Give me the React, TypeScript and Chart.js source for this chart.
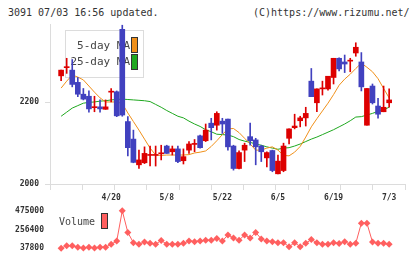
import React, { useEffect, useRef } from 'react';
import { Chart, registerables } from 'chart.js';

Chart.register(...registerables);

// Daily candles (60 trading days)
const opens = [
  2265, 2285, 2279, 2249, 2220, 2215, 2187, 2189, 2183, 2225,
  2226, 2379, 2153, 2110, 2047, 2052, 2070, 2070, 2074, 2093,
  2079, 2086, 2057, 2083, 2097, 2118, 2106, 2149, 2144, 2154,
  2159, 2093, 2038, 2083, 2116, 2108, 2093, 2064, 2082, 2025,
  2033, 2112, 2138, 2155, 2162, 2252, 2199, 2233, 2233, 2261,
  2308, 2299, 2301, 2321, 2299, 2144, 2240, 2191, 2177, 2199,
];
const highs = [
  2279, 2308, 2305, 2261, 2234, 2228, 2215, 2206, 2206, 2234,
  2228, 2389, 2165, 2132, 2083, 2091, 2093, 2093, 2095, 2095,
  2093, 2093, 2086, 2104, 2109, 2120, 2147, 2161, 2177, 2161,
  2159, 2095, 2081, 2100, 2149, 2112, 2095, 2079, 2083, 2071,
  2100, 2135, 2171, 2166, 2188, 2283, 2233, 2252, 2264, 2308,
  2309, 2316, 2308, 2346, 2322, 2234, 2245, 2210, 2240, 2233,
];
const lows = [
  2253, 2271, 2238, 2214, 2206, 2176, 2177, 2176, 2183, 2201,
  2165, 2166, 2069, 2052, 2038, 2050, 2044, 2044, 2059, 2075,
  2071, 2052, 2049, 2075, 2079, 2088, 2104, 2108, 2132, 2124,
  2083, 2034, 2037, 2055, 2095, 2047, 2055, 2042, 2030, 2025,
  2030, 2098, 2135, 2140, 2142, 2214, 2177, 2218, 2230, 2245,
  2277, 2273, 2275, 2313, 2228, 2144, 2196, 2161, 2177, 2188,
];
const closes = [
  2279, 2287, 2244, 2220, 2208, 2184, 2189, 2184, 2189, 2227,
  2167, 2169, 2089, 2053, 2059, 2075, 2071, 2071, 2075, 2075,
  2086, 2055, 2067, 2098, 2098, 2089, 2132, 2138, 2173, 2147,
  2091, 2038, 2077, 2095, 2106, 2091, 2079, 2077, 2033, 2056,
  2093, 2135, 2142, 2162, 2173, 2214, 2233, 2235, 2264, 2308,
  2282, 2294, 2302, 2335, 2238, 2234, 2199, 2171, 2188, 2206,
];

// Moving averages
const ma5 = [
  2235, 2252, 2267, 2262, 2255, 2240, 2225, 2211, 2201, 2201,
  2201, 2197, 2174, 2153, 2132, 2110, 2088, 2071, 2070, 2071,
  2071, 2071, 2071, 2072, 2076, 2078, 2081, 2092, 2106, 2121,
  2135, 2136, 2126, 2112, 2098, 2083, 2083, 2088, 2091, 2083,
  2070, 2069, 2078, 2092, 2115, 2140, 2160, 2179, 2198, 2219,
  2242, 2257, 2269, 2283, 2296, 2286, 2275, 2258, 2234, 2211,
];
const ma25 = [
  2166, 2176, 2186, 2192, 2198, 2200, 2201, 2203, 2204, 2206,
  2207, 2208, 2207, 2206, 2205, 2204, 2202, 2195, 2188, 2180,
  2173, 2166, 2162, 2154, 2147, 2141, 2133, 2128, 2122, 2121,
  2120, 2116, 2109, 2105, 2102, 2098, 2095, 2091, 2088, 2085,
  2088, 2089, 2093, 2098, 2104, 2110, 2115, 2121, 2127, 2133,
  2140, 2147, 2155, 2164, 2165, 2169, 2173, 2178, 2182, 2188,
];

// Daily volume
const volumes = [
  37800, 66700, 66700, 48600, 40000, 48600, 39000, 48600, 48600, 84800,
  120900, 475000, 222100, 102800, 84800, 110100, 95600, 84800, 128100, 84800,
  84800, 84800, 95600, 120900, 113700, 120900, 131700, 131700, 149800, 120900,
  193200, 157000, 131700, 193200, 157000, 222100, 146200, 120900, 113700, 102800,
  102800, 55900, 102800, 55900, 95600, 139000, 102800, 84800, 84800, 102800,
  92000, 113700, 84800, 95600, 330500, 330500, 110100, 95600, 95600, 84800,
];

const tickIndex = [9, 19, 29, 39, 49, 59];
const tickLabels = ['4/20', '5/8', '5/22', '6/5', '6/19', '7/3'];
const priceTicks = [2000, 2200];
const volumeTicks = [37800, 256400, 475000];
const maNames = ['5-day MA', '25-day MA'];
const volumeName = 'Volume';

const X_MIN = -2;
const X_MAX = 61.85;
const Y_MIN = 2000;
const Y_MAX = 2392;

const RED = '#dd0000';
const BLUE = '#4141bf';
const ORANGE = '#f0901a';
const GREEN = '#1fa81f';
const VOL = '#ff5f5f';
const AXIS = '#dcdcdc';
const TEXT = '#333';
const MONO = '"DejaVu Sans Mono", monospace';

const candleColor = (ctx: any) =>
  closes[ctx.dataIndex] >= opens[ctx.dataIndex] ? RED : BLUE;

const maLegend = {
  id: 'maLegend',
  beforeDatasetsDraw(chart: any) {
    const ctx = chart.ctx;
    ctx.save();
    ctx.fillStyle = '#fff';
    ctx.fillRect(65.5, 30.5, 78, 47);
    ctx.strokeStyle = AXIS;
    ctx.lineWidth = 1;
    ctx.strokeRect(65.5, 30.5, 78, 47);
    ctx.font = `11px ${MONO}`;
    ctx.fillStyle = '#444';
    ctx.textAlign = 'right';
    ctx.textBaseline = 'middle';
    ctx.fillText(maNames[0], 130, 46);
    ctx.fillText(maNames[1], 130, 62.5);
    ctx.strokeStyle = '#333';
    ctx.fillStyle = ORANGE;
    ctx.fillRect(131.5, 37.5, 6, 15);
    ctx.strokeRect(131.5, 37.5, 6, 15);
    ctx.fillStyle = GREEN;
    ctx.fillRect(131.5, 54.5, 6, 15);
    ctx.strokeRect(131.5, 54.5, 6, 15);
    ctx.restore();
  },
};

const volLegend = {
  id: 'volLegend',
  beforeDatasetsDraw(chart: any) {
    const ctx = chart.ctx;
    ctx.save();
    ctx.font = `10px ${MONO}`;
    ctx.fillStyle = '#444';
    ctx.textAlign = 'left';
    ctx.textBaseline = 'middle';
    ctx.fillText(volumeName, 59, 22);
    ctx.fillStyle = VOL;
    ctx.strokeStyle = '#333';
    ctx.lineWidth = 1;
    ctx.fillRect(101.5, 13.5, 6, 15);
    ctx.strokeRect(101.5, 13.5, 6, 15);
    ctx.restore();
  },
};

export default function App() {
  const mainRef = useRef<HTMLCanvasElement>(null);
  const volRef = useRef<HTMLCanvasElement>(null);

  useEffect(() => {
    const main = new Chart(mainRef.current as HTMLCanvasElement, {
      type: 'bar',
      data: {
        datasets: [
          {
            type: 'line',
            label: maNames[0],
            data: ma5.map((v, i) => ({ x: i, y: v })),
            borderColor: ORANGE,
            borderWidth: 1,
            pointRadius: 0,
            tension: 0,
            order: 3,
          } as any,
          {
            type: 'line',
            label: maNames[1],
            data: ma25.map((v, i) => ({ x: i, y: v })),
            borderColor: GREEN,
            borderWidth: 1,
            pointRadius: 0,
            tension: 0,
            order: 3,
          } as any,
          {
            type: 'bar',
            label: 'range',
            data: highs.map((h, i) => ({ x: i, y: [lows[i], h] })),
            backgroundColor: candleColor,
            barThickness: 1,
            grouped: false,
            order: 2,
          } as any,
          {
            type: 'bar',
            label: 'body',
            data: opens.map((o, i) => ({ x: i, y: [o, closes[i]] })),
            backgroundColor: candleColor,
            barThickness: 5,
            minBarLength: 1,
            grouped: false,
            order: 1,
          } as any,
        ],
      },
      options: {
        responsive: false,
        animation: false,
        devicePixelRatio: 1,
        layout: { padding: { top: 24, right: 15, left: 0, bottom: 0 } },
        plugins: { legend: { display: false }, tooltip: { enabled: false } },
        scales: {
          x: {
            type: 'linear',
            min: X_MIN,
            max: X_MAX,
            offset: false,
            afterBuildTicks: (scale: any) => {
              const t: any[] = [];
              for (let k = 0; k <= 11; k++) t.push({ value: X_MIN + (k * (X_MAX - X_MIN)) / 11 });
              tickIndex.forEach((i) => t.push({ value: i }));
              t.sort((a, b) => a.value - b.value);
              scale.ticks = t;
            },
            afterFit: (scale: any) => {
              scale.height = 26;
            },
            grid: {
              offset: false,
              drawOnChartArea: false,
              tickLength: 6,
              color: (ctx: any) =>
                ctx.tick && tickIndex.includes(ctx.tick.value) ? 'rgba(0,0,0,0)' : AXIS,
            },
            border: { display: true, color: AXIS },
            ticks: {
              autoSkip: false,
              maxRotation: 0,
              padding: 3,
              color: TEXT,
              font: { family: MONO, size: 8, weight: 'bold' },
              callback: (value: any) => {
                const k = tickIndex.indexOf(value);
                return k >= 0 ? tickLabels[k] : '';
              },
            },
          },
          y: {
            type: 'linear',
            min: Y_MIN,
            max: Y_MAX,
            afterBuildTicks: (scale: any) => {
              scale.ticks = priceTicks.map((v) => ({ value: v }));
            },
            afterFit: (scale: any) => {
              scale.width = 50;
            },
            grid: { drawOnChartArea: false, tickLength: 5, color: AXIS },
            border: { display: true, color: AXIS },
            ticks: {
              padding: 6,
              color: TEXT,
              font: { family: MONO, size: 8, weight: 'bold' },
              callback: (v: any) => String(v),
            },
          },
        },
      } as any,
      plugins: [maLegend],
    });

    const vol = new Chart(volRef.current as HTMLCanvasElement, {
      type: 'line',
      data: {
        datasets: [
          {
            label: volumeName,
            data: volumes.map((v, i) => ({ x: i, y: v })),
            borderColor: VOL,
            borderWidth: 1,
            pointStyle: 'rectRot',
            pointRadius: 3.5,
            pointBackgroundColor: VOL,
            pointBorderWidth: 0,
            tension: 0,
            clip: false,
          } as any,
        ],
      },
      options: {
        responsive: false,
        animation: false,
        devicePixelRatio: 1,
        layout: { padding: { top: 9, right: 15, left: 0, bottom: 10 } },
        plugins: { legend: { display: false }, tooltip: { enabled: false } },
        scales: {
          x: { type: 'linear', display: false, min: X_MIN, max: X_MAX },
          y: {
            type: 'linear',
            min: volumeTicks[0],
            max: volumeTicks[2],
            afterBuildTicks: (scale: any) => {
              scale.ticks = volumeTicks.map((v) => ({ value: v }));
            },
            afterFit: (scale: any) => {
              scale.width = 50;
            },
            grid: { display: false, drawTicks: false },
            border: { display: false },
            ticks: {
              padding: 6,
              color: TEXT,
              font: { family: MONO, size: 8, weight: 'bold' },
              callback: (v: any) => String(v),
            },
          },
        },
      } as any,
      plugins: [volLegend],
    });

    return () => {
      main.destroy();
      vol.destroy();
    };
  }, []);

  const head: React.CSSProperties = {
    position: 'absolute',
    top: 7,
    font: `10px ${MONO}`,
    lineHeight: '12px',
    color: TEXT,
    whiteSpace: 'pre',
  };

  return (
    <div style={{ position: 'fixed', left: 0, top: 0, width: 420, height: 259, background: '#fff' }}>
      <div style={{ ...head, left: 8 }}>3091 07/03 16:56 updated.</div>
      <div style={{ ...head, left: 253 }}>(C)https://www.rizumu.net/</div>
      <canvas ref={mainRef} width={420} height={210} style={{ position: 'absolute', left: 0, top: 0 }} />
      <canvas ref={volRef} width={420} height={59} style={{ position: 'absolute', left: 0, top: 200 }} />
    </div>
  );
}
